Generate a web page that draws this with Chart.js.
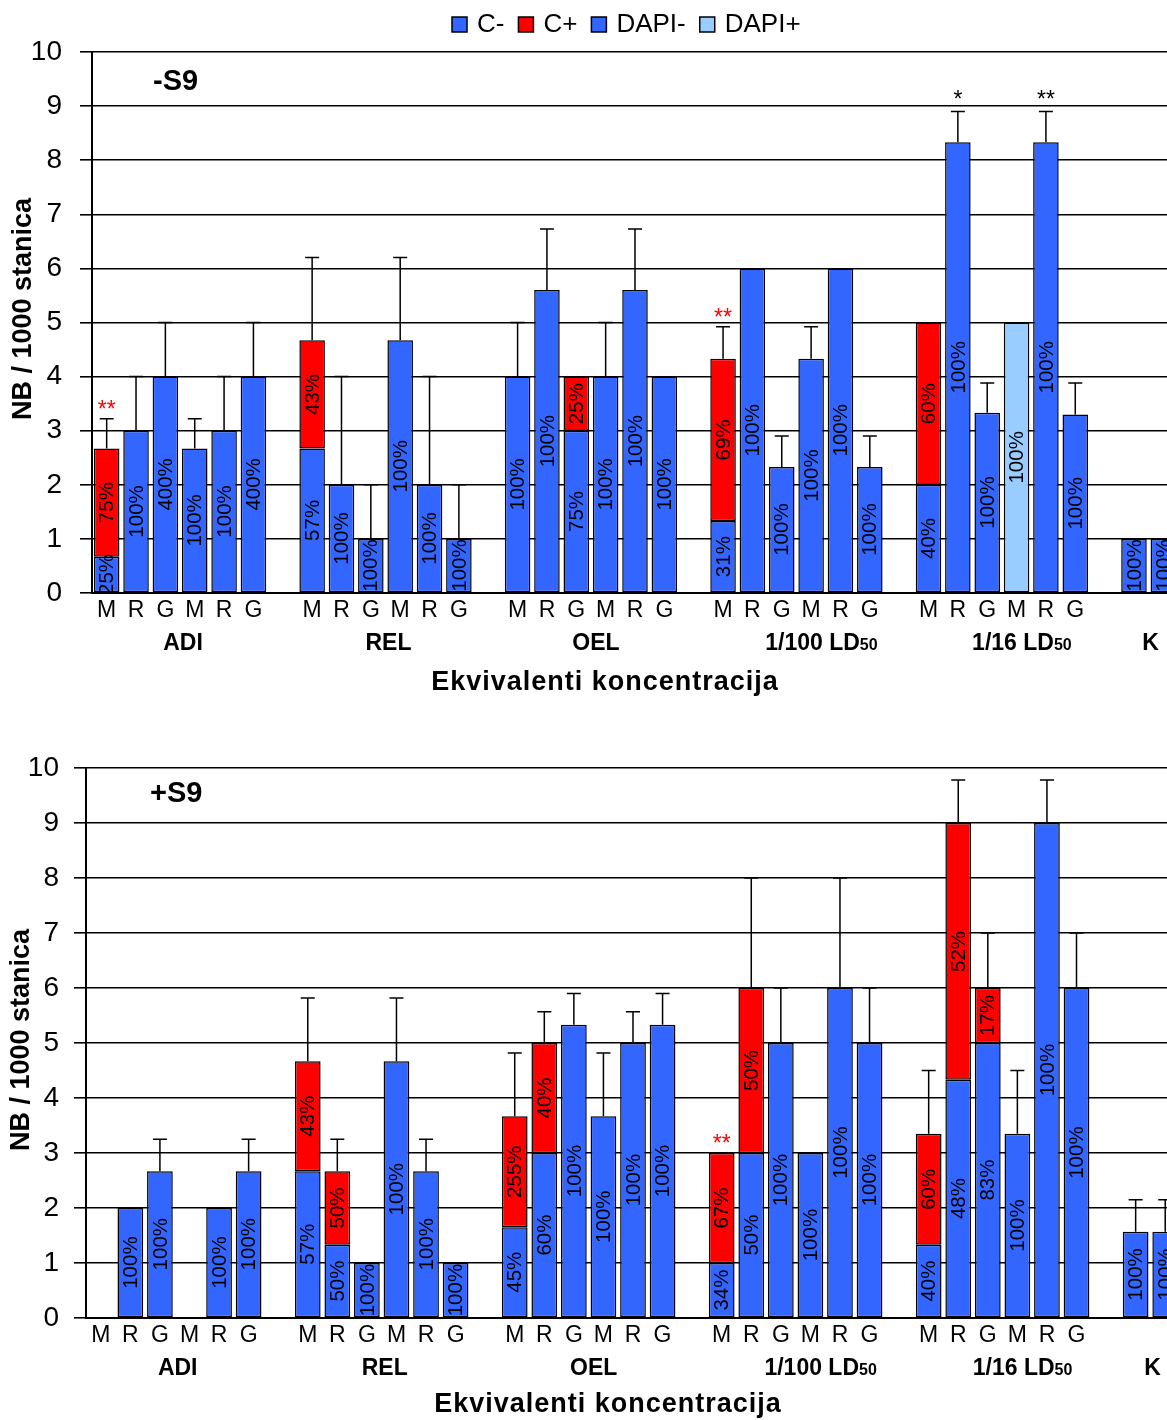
<!DOCTYPE html>
<html>
<head>
<meta charset="utf-8">
<script src="https://cdn.jsdelivr.net/npm/chart.js@4.4.1/dist/chart.umd.min.js"></script>
<style>
  html, body { margin: 0; padding: 0; background: #fff; overflow: hidden; }
  body { width: 1167px; height: 1420px; }
  .box { width: 1190px; height: 710px; }
</style>
</head>
<body>
<div class="box"><canvas id="chartMinus" width="1190" height="710"></canvas></div>
<div class="box"><canvas id="chartPlus" width="1190" height="710"></canvas></div>
<script>
// x slots: six bars per group (M R G for C, M R G for DAPI), empty slot between groups
const subLabels = ['M','R','G','M','R','G','',
                   'M','R','G','M','R','G','',
                   'M','R','G','M','R','G','',
                   'M','R','G','M','R','G','',
                   'M','R','G','M','R','G','',
                   '',''];
const groupNames = ['ADI', 'REL', 'OEL', '1/100 LD', '1/16 LD', 'K'];
const groupSubs  = ['', '', '', '50', '50', ''];
const groupFirst = [0, 7, 14, 21, 28, 35];
const groupLast  = [5, 12, 19, 26, 33, 36];
const seriesNames = ['C-', 'C+', 'DAPI-', 'DAPI+'];

// ---- -S9 ----
const minusCneg = [0.67,3,4,null,null,null, null, 2.67,2,1,null,null,null, null, 4,5.6,3,null,null,null, null, 1.33,6,2.33,null,null,null, null, 2,8.33,3.33,null,null,null, null, 1,null];
const minusCpos = [2,null,null,null,null,null, null, 2,null,null,null,null,null, null, null,null,1,null,null,null, null, 3,null,null,null,null,null, null, 3,null,null,null,null,null, null, null,null];
const minusDneg = [null,null,null,2.67,3,4, null, null,null,null,4.67,2,1, null, null,null,null,4,5.6,4, null, null,null,null,4.33,6,2.33, null, null,null,null,null,8.33,3.3, null, null,1];
const minusDpos = [null,null,null,null,null,null, null, null,null,null,null,null,null, null, null,null,null,null,null,null, null, null,null,null,null,null,null, null, null,null,null,5,null,null, null, null,null];
const minusErr  = [3.22,4,5,3.22,4,5, null, 6.2,4,2,6.2,4,2, null, 5,6.73,null,5,6.73,null, null, 4.92,null,2.9,4.92,null,2.9, null, null,8.9,3.88,null,8.9,3.88, null, null,null];
const minusPctCneg = ['25%','100%','400%',null,null,null, null, '57%','100%','100%',null,null,null, null, '100%','100%','75%',null,null,null, null, '31%','100%','100%',null,null,null, null, '40%','100%','100%',null,null,null, null, '100%',null];
const minusPctCpos = ['75%',null,null,null,null,null, null, '43%',null,null,null,null,null, null, null,null,'25%',null,null,null, null, '69%',null,null,null,null,null, null, '60%',null,null,null,null,null, null, null,null];
const minusPctDneg = [null,null,null,'100%','100%','400%', null, null,null,null,'100%','100%','100%', null, null,null,null,'100%','100%','100%', null, null,null,null,'100%','100%','100%', null, null,null,null,null,'100%','100%', null, null,'100%'];
const minusPctDpos = [null,null,null,null,null,null, null, null,null,null,null,null,null, null, null,null,null,null,null,null, null, null,null,null,null,null,null, null, null,null,null,'100%',null,null, null, null,null];
const minusStarsRed   = {0: '**', 21: '**'};
const minusStarsBlack = {29: '*', 32: '**'};

// ---- +S9 ----
const plusCneg = [null,2,2.67,null,null,null, null, 2.67,1.33,1,null,null,null, null, 1.65,3,5.33,null,null,null, null, 1,3,5,null,null,null, null, 1.33,4.33,5,null,null,null, null, 1.57,null];
const plusCpos = [null,null,null,null,null,null, null, 2,1.34,null,null,null,null, null, 2.02,2,null,null,null,null, null, 2,3,null,null,null,null, null, 2.02,4.67,1,null,null,null, null, null,null];
const plusDneg = [null,null,null,null,2,2.67, null, null,null,null,4.67,2.67,1, null, null,null,null,3.67,5,5.33, null, null,null,null,3,6,5, null, null,null,null,3.35,9,6, null, null,1.57];
const plusDpos = new Array(37).fill(null);
const plusErr  = [null,null,3.25,null,null,3.25, null, 5.82,3.25,null,5.82,3.25,null, null, 4.82,5.57,5.9,4.82,5.57,5.9, null, null,8,6,null,8,6, null, 4.5,9.78,7,4.5,9.78,7, null, 2.15,2.15];
const plusPctCneg = [null,'100%','100%',null,null,null, null, '57%','50%','100%',null,null,null, null, '45%','60%','100%',null,null,null, null, '34%','50%','100%',null,null,null, null, '40%','48%','83%',null,null,null, null, '100%',null];
const plusPctCpos = [null,null,null,null,null,null, null, '43%','50%',null,null,null,null, null, '255%','40%',null,null,null,null, null, '67%','50%',null,null,null,null, null, '60%','52%','17%',null,null,null, null, null,null];
const plusPctDneg = [null,null,null,null,'100%','100%', null, null,null,null,'100%','100%','100%', null, null,null,null,'100%','100%','100%', null, null,null,null,'100%','100%','100%', null, null,null,null,'100%','100%','100%', null, null,'100%'];
const plusPctDpos = new Array(37).fill(null);
const plusStarsRed   = {21: '**'};
const plusStarsBlack = {};

const FONT = '"Liberation Sans", Arial, sans-serif';
const colors = ['#3366ff', '#ff0000', '#3366ff', '#99ccff'];
const groupShift = [3, 3, 5, 25, 20, 2];

function makeOverlay(o) {
  return {
    id: 'overlay',
    afterDatasetsDraw(chart) {
      const ctx = chart.ctx, xs = chart.scales.x, ys = chart.scales.y;
      // percentage labels inside segments
      chart.data.datasets.forEach((ds, di) => {
        const meta = chart.getDatasetMeta(di);
        ds.pct.forEach((t, i) => {
          if (!t) return;
          const el = meta.data[i];
          ctx.save();
          ctx.translate(el.x, (el.y + el.base) / 2);
          ctx.rotate(-Math.PI / 2);
          ctx.font = '20.5px ' + FONT;
          ctx.fillStyle = '#000';
          ctx.textAlign = 'center';
          ctx.textBaseline = 'middle';
          ctx.fillText(t, 0, 1);
          ctx.restore();
        });
      });
      // error bars (upper only)
      ctx.save();
      ctx.strokeStyle = '#000';
      ctx.lineWidth = 1.5;
      o.err.forEach((e, i) => {
        if (e == null) return;
        const total = chart.data.datasets.reduce((s, ds) => s + (ds.data[i] || 0), 0);
        const px = xs.getPixelForValue(i);
        const y0 = ys.getPixelForValue(total), y1 = ys.getPixelForValue(e);
        ctx.beginPath();
        ctx.moveTo(px, y0); ctx.lineTo(px, y1);
        ctx.moveTo(px - 7, y1); ctx.lineTo(px + 7, y1);
        ctx.stroke();
      });
      ctx.restore();
      // significance stars
      const stars = (map, color, gap) => {
        Object.keys(map).forEach(k => {
          const i = +k;
          const total = chart.data.datasets.reduce((s, ds) => s + (ds.data[i] || 0), 0);
          const top = o.err[i] != null ? o.err[i] : total;
          ctx.save();
          ctx.font = '23px ' + FONT;
          ctx.fillStyle = color;
          ctx.textAlign = 'center';
          ctx.textBaseline = 'alphabetic';
          ctx.fillText(map[k], xs.getPixelForValue(i), ys.getPixelForValue(top) - gap);
          ctx.restore();
        });
      };
      stars(o.starsRed, '#ff0000', 2);
      stars(o.starsBlack, '#000', 5);
    },
    afterDraw(chart) {
      const ctx = chart.ctx, xs = chart.scales.x;
      ctx.save();
      ctx.fillStyle = '#000';
      ctx.textBaseline = 'middle';
      // group labels
      groupNames.forEach((g, gi) => {
        const cx = (xs.getPixelForValue(groupFirst[gi]) + xs.getPixelForValue(groupLast[gi])) / 2 + groupShift[gi];
        ctx.font = 'bold 23px ' + FONT;
        const w1 = ctx.measureText(g).width;
        ctx.font = 'bold 16px ' + FONT;
        const w2 = groupSubs[gi] ? ctx.measureText(groupSubs[gi]).width : 0;
        let x0 = cx - (w1 + w2) / 2;
        ctx.textAlign = 'left';
        ctx.textBaseline = 'alphabetic';
        ctx.font = 'bold 23px ' + FONT;
        ctx.fillText(g, x0, o.groupY + 8);
        if (w2) {
          ctx.font = 'bold 16px ' + FONT;
          ctx.fillText(groupSubs[gi], x0 + w1, o.groupY + 8);
        }
      });
      // x axis title
      ctx.textAlign = 'center';
      ctx.textBaseline = 'middle';
      ctx.font = 'bold 27px ' + FONT;
      ctx.letterSpacing = '1px';
      ctx.fillText('Ekvivalenti koncentracija', o.titleX, o.titleY);
      ctx.letterSpacing = '0px';
      // y axis title
      ctx.save();
      ctx.translate(o.yTitleX, o.yTitleY);
      ctx.rotate(-Math.PI / 2);
      ctx.font = 'bold 27px ' + FONT;
      ctx.fillText('NB / 1000 stanica', 0, 0);
      ctx.restore();
      // panel label
      ctx.textAlign = 'left';
      ctx.font = 'bold 29px ' + FONT;
      ctx.fillText(o.panel, o.panelX, o.panelY);
      // legend
      if (o.legend) {
        ctx.font = '26px ' + FONT;
        let lx = 452;
        seriesNames.forEach((n, i) => {
          ctx.fillStyle = colors[i];
          ctx.fillRect(lx, 17, 15, 15);
          ctx.strokeStyle = '#000';
          ctx.lineWidth = 1.5;
          ctx.strokeRect(lx, 17, 15, 15);
          ctx.fillStyle = '#000';
          ctx.fillText(n, lx + 25, 25);
          lx += 25 + ctx.measureText(n).width + 14;
        });
      }
      ctx.restore();
    }
  };
}

function buildChart(id, d, o) {
  const sets = [d.cNeg, d.cPos, d.dNeg, d.dPos].map((vals, i) => ({
    label: seriesNames[i],
    data: vals,
    pct: d.pct[i],
    backgroundColor: colors[i],
    borderColor: '#000',
    borderWidth: 1.5,
    borderSkipped: false,
    stack: 'one',
    barPercentage: 0.87,
    categoryPercentage: 1
  }));
  return new Chart(document.getElementById(id), {
    type: 'bar',
    data: { labels: subLabels, datasets: sets },
    options: {
      responsive: false,
      animation: false,
      layout: { padding: { top: o.top, right: o.right, left: 0, bottom: 0 } },
      plugins: { legend: { display: false }, tooltip: { enabled: false } },
      scales: {
        x: {
          stacked: true,
          grid: { display: false, drawTicks: false },
          border: { display: true, color: '#000', width: 2 },
          ticks: { autoSkip: false, maxRotation: 0, minRotation: 0, padding: 4, color: '#000',
                   font: { size: 23, family: FONT } },
          afterFit: s => { s.height = o.xHeight; }
        },
        y: {
          stacked: true,
          min: 0, max: 10,
          grid: { color: '#000', lineWidth: 1.6, tickLength: 12 },
          border: { display: true, color: '#000', width: 2 },
          ticks: { stepSize: 1, padding: o.tickPad, color: '#000', font: { size: 28, family: FONT } },
          afterFit: s => { s.width = o.left; }
        }
      }
    },
    plugins: [makeOverlay(o)]
  });
}

buildChart('chartMinus',
  { cNeg: minusCneg, cPos: minusCpos, dNeg: minusDneg, dPos: minusDpos,
    pct: [minusPctCneg, minusPctCpos, minusPctDneg, minusPctDpos] },
  { top: 52, right: 12, left: 92, xHeight: 117, tickPad: 18,
    err: minusErr, starsRed: minusStarsRed, starsBlack: minusStarsBlack,
    groupY: 642, titleX: 605, titleY: 683, yTitleX: 24, yTitleY: 309,
    panel: '-S9', panelX: 153, panelY: 82, legend: true });

buildChart('chartPlus',
  { cNeg: plusCneg, cPos: plusCpos, dNeg: plusDneg, dPos: plusDpos,
    pct: [plusPctCneg, plusPctCpos, plusPctDneg, plusPctDpos] },
  { top: 58, right: 10, left: 86, xHeight: 102, tickPad: 15,
    err: plusErr, starsRed: plusStarsRed, starsBlack: plusStarsBlack,
    groupY: 657, titleX: 608, titleY: 695, yTitleX: 22, yTitleY: 330,
    panel: '+S9', panelX: 150, panelY: 84, legend: false });
</script>
</body>
</html>
